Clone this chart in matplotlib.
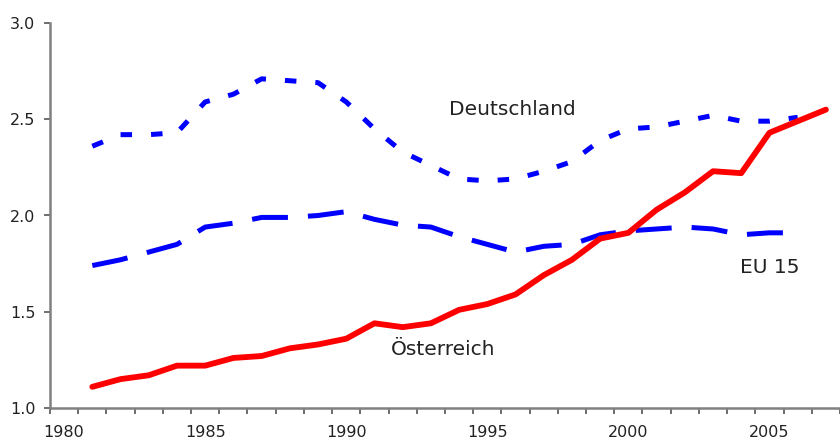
import matplotlib
matplotlib.use("Agg")
import matplotlib.pyplot as plt
import numpy as np

years_at = list(range(1981, 2008))
oesterreich = [1.11, 1.15, 1.17, 1.22, 1.22, 1.26, 1.27, 1.31, 1.33, 1.36, 1.44, 1.42, 1.44,
               1.51, 1.54, 1.59, 1.69, 1.77, 1.88, 1.91, 2.03, 2.12, 2.23, 2.22, 2.43, 2.49, 2.55]

years_de = list(range(1981, 2007))
deutschland = [2.36, 2.42, 2.42, 2.43, 2.59, 2.63, 2.71, 2.70, 2.69, 2.59, 2.45, 2.33, 2.26,
               2.19, 2.18, 2.19, 2.23, 2.28, 2.39, 2.45, 2.46, 2.49, 2.52, 2.49, 2.49, 2.51]

years_eu = list(range(1981, 2007))
eu15 = [1.74, 1.77, 1.81, 1.85, 1.94, 1.96, 1.99, 1.99, 2.00, 2.02, 1.98, 1.95, 1.94,
        1.89, 1.85, 1.81, 1.84, 1.85, 1.90, 1.92, 1.93, 1.94, 1.93, 1.90, 1.91, 1.91]

xticklabels = ["1980", "1985", "1990", "1995", "2000", "2005"]
yticks = [1.0, 1.5, 2.0, 2.5, 3.0]

plt.rcParams['font.family'] = ['DejaVu Sans']

fig = plt.figure(figsize=(8.4, 4.44), dpi=100)
ax = fig.add_axes([50/840, 36/444, 790/840, (408-23)/444])

ax.plot(years_de, deutschland, color='#0000FF', lw=3.6, dashes=(2.3, 3.8),
        dash_capstyle='butt', solid_joinstyle='round')
ax.plot(years_eu, eu15, color='#0000FF', lw=3.6, dashes=(7.2, 4.0),
        dash_capstyle='butt')
ax.plot(years_at, oesterreich, color='#FF0000', lw=4.2, solid_capstyle='round',
        solid_joinstyle='round')

ax.set_xlim(1979.5, 2007.39)
ax.set_ylim(1.0, 3.0)

ax.set_xticks([int(t) for t in xticklabels])
ax.set_xticklabels(xticklabels, fontsize=11.5, color='#222222')
ax.set_xticks(np.arange(1979.5, 2008, 1.0), minor=True)
ax.tick_params(axis='x', which='major', length=0, pad=12)
ax.tick_params(axis='x', which='minor', length=4, width=1.2, color='#555555', direction='out')

ax.set_yticks(yticks)
ax.set_yticklabels([f"{v:.1f}" for v in yticks], fontsize=11.5, color='#222222')
ax.tick_params(axis='y', length=4.5, width=1.2, color='#555555', pad=6)

for s in ['top', 'right']:
    ax.spines[s].set_visible(False)
for s in ['left', 'bottom']:
    ax.spines[s].set_color('#808080')
    ax.spines[s].set_linewidth(1.8)

ax.text(1995.9, 2.55, "Deutschland", fontsize=14.5, ha='center', va='center', color='#222222')
ax.text(2005.0, 1.73, "EU 15", fontsize=14.5, ha='center', va='center', color='#222222')
ax.text(1993.45, 1.305, "Österreich", fontsize=14.5, ha='center', va='center', color='#222222')

fig.savefig("out.png", dpi=100)
